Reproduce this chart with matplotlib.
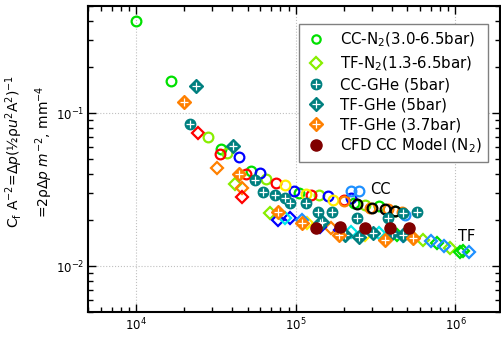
import numpy as np
import matplotlib
matplotlib.use("Agg")
import matplotlib.pyplot as plt
from matplotlib.ticker import LogLocator, NullFormatter

plt.rcParams["mathtext.default"] = "regular"

# ---- data ----
# CC-N2 (3.0-6.5bar), open circles, colour = test run
cc_n2 = {
    "#00e000": ([1.0e4, 1.66e4, 3.41e4, 5.2e4, 1.05e5, 2.3e5, 3.3e5, 4.2e5],
                [0.40, 0.162, 0.058, 0.042, 0.030, 0.026, 0.0245, 0.023]),
    "#88ee00": ([2.83e4, 3.72e4, 6.5e4, 1.4e5, 2.7e5],
                [0.0697, 0.0548, 0.037, 0.029, 0.025]),
    "#ff0000": ([3.37e4, 4.9e4, 7.5e4, 1.25e5, 2.0e5],
                [0.054, 0.040, 0.035, 0.029, 0.027]),
    "#0000ff": ([4.43e4, 6.0e4, 9.8e4, 1.6e5, 2.2e5],
                [0.0515, 0.0407, 0.031, 0.0285, 0.028]),
    "#ffee00": ([8.5e4, 1.15e5, 1.7e5],
                [0.034, 0.0295, 0.027]),
    "#ff8000": ([2.0e5, 2.9e5, 3.8e5, 4.6e5],
                [0.0265, 0.024, 0.0235, 0.0225]),
    "#000000": ([2.4e5, 3.0e5, 3.6e5, 4.2e5],
                [0.0255, 0.024, 0.0235, 0.023]),
    "#1e90ff": ([2.2e5, 2.5e5, 4.8e5],
                [0.031, 0.031, 0.0215]),
}

# TF-N2 (1.3-6.5bar), open diamonds
tf_n2 = {
    "#88ee00": ([4.18e4, 6.92e4, 6.3e5, 9.3e5],
                [0.0343, 0.0222, 0.0148, 0.0131]),
    "#ff8000": ([3.22e4, 4.62e4, 1.65e5],
                [0.0437, 0.0324, 0.0177]),
    "#ff0000": ([2.45e4, 4.62e4],
                [0.074, 0.0282]),
    "#0000ff": ([7.77e4, 9.24e4, 1.42e5, 1.9e5],
                [0.020, 0.0206, 0.0180, 0.0172]),
    "#00e8e8": ([8.6e4, 2.2e5, 3.3e5],
                [0.0206, 0.0167, 0.0165]),
    "#ffee00": ([1.18e5, 2.73e5],
                [0.0191, 0.0159]),
    "#00e000": ([4.33e5, 5.45e5, 7.7e5, 1.07e6, 1.12e6],
                [0.0159, 0.0152, 0.0141, 0.0124, 0.0126]),
    "#1e90ff": ([1.1e5, 4.7e5, 7.0e5, 8.5e5, 1.21e6],
                [0.0200, 0.0156, 0.0145, 0.0136, 0.0124]),
}

cc_ghe_x = [2.18e4, 5.57e4, 6.25e4, 7.43e4, 8.6e4, 9.24e4, 1.15e5, 1.38e5,
            1.69e5, 2.43e5, 3.75e5, 4.72e5, 5.78e5]
cc_ghe_y = [0.0847, 0.0365, 0.0305, 0.0291, 0.0278, 0.0258, 0.0258, 0.0225,
            0.0225, 0.0206, 0.0206, 0.0222, 0.0225]

tf_ghe5_x = [2.38e4, 4.06e4, 1.42e5, 1.46e5, 2.04e5, 2.47e5, 3.06e5, 4.03e5, 4.66e5]
tf_ghe5_y = [0.150, 0.0608, 0.0191, 0.0194, 0.0159, 0.0155, 0.0164, 0.0164, 0.0159]

tf_ghe37_x = [2.0e4, 4.43e4, 7.77e4, 1.10e5, 1.85e5, 3.64e5, 5.45e5]
tf_ghe37_y = [0.118, 0.040, 0.0225, 0.0191, 0.0159, 0.0148, 0.0152]

cfd_x = [1.33e5, 1.9e5, 2.73e5, 3.86e5, 5.15e5]
cfd_y = [0.0178, 0.0180, 0.0178, 0.0178, 0.0178]

teal = "#008080"
orange = "#ff8000"

fig = plt.figure(figsize=(5.01, 3.37), dpi=100)
ax = fig.add_axes([0.176, 0.074, 0.822, 0.908])
ax.set_xscale("log")
ax.set_yscale("log")

ms = 7
lw = 1.6

for c, (xs, ys) in tf_n2.items():
    ax.plot(xs, ys, ls="none", marker="D", ms=ms - 0.5, mfc="none", mec=c, mew=lw)
for c, (xs, ys) in cc_n2.items():
    ax.plot(xs, ys, ls="none", marker="o", ms=ms, mfc="none", mec=c, mew=lw)

def crossed(x, y, m, color, size):
    a = ax.plot(x, y, ls="none", marker=m, ms=size, mfc=color, mec=color, mew=1)[0]
    b = ax.plot(x, y, ls="none", marker="+", ms=size * 0.75, mec="white", mew=0.9)[0]
    return (a, b)

h_ccghe = crossed(cc_ghe_x, cc_ghe_y, "o", teal, 7.5)
h_tf5 = crossed(tf_ghe5_x, tf_ghe5_y, "D", teal, 7)
h_tf37 = crossed(tf_ghe37_x, tf_ghe37_y, "D", orange, 7)
h_cfd = ax.plot(cfd_x, cfd_y, ls="none", marker="o", ms=8, mfc="#800000", mec="#800000")[0]

# legend proxies
p_cc = ax.plot([], [], ls="none", marker="o", ms=6, mfc="none", mec="#00e000", mew=lw)[0]
p_tf = ax.plot([], [], ls="none", marker="D", ms=6, mfc="none", mec="#88ee00", mew=lw)[0]

leg = ax.legend([p_cc, p_tf, h_ccghe, h_tf5, h_tf37, h_cfd],
                [r"CC-N$_2$(3.0-6.5bar)", r"TF-N$_2$(1.3-6.5bar)", "CC-GHe (5bar)",
                 "TF-GHe (5bar)", "TF-GHe (3.7bar)", r"CFD CC Model (N$_2$)"],
                loc="upper right", bbox_to_anchor=(0.99, 0.965), fontsize=10.8,
                fancybox=False, framealpha=1, edgecolor="#808080",
                handlelength=1.4, handletextpad=0.9, labelspacing=0.32,
                borderpad=0.45)
leg.get_frame().set_linewidth(1.0)

ax.text(3.4e5, 0.0315, "CC", fontsize=10.5, ha="center", va="center")
ax.text(1.17e6, 0.0157, "TF", fontsize=10.5, ha="center", va="center")

ax.set_xlim(5.0e3, 1.9e6)
ax.set_ylim(0.005, 0.5)

ax.xaxis.set_major_locator(LogLocator(base=10, numticks=10))
ax.xaxis.set_minor_locator(LogLocator(base=10, subs=np.arange(2, 10), numticks=10))
ax.yaxis.set_minor_locator(LogLocator(base=10, subs=np.arange(2, 10), numticks=10))
ax.xaxis.set_minor_formatter(NullFormatter())
ax.yaxis.set_minor_formatter(NullFormatter())

ax.tick_params(which="both", direction="in", top=True, right=True, labelsize=8.5)
ax.tick_params(which="major", length=6, width=1)
ax.tick_params(which="minor", length=3.5, width=1)
ax.tick_params(axis="y", pad=2.5)
ax.grid(True, which="major", ls=":", color="#c0c0c0", lw=0.8)
for s in ax.spines.values():
    s.set_linewidth(1.5)

# y label as free text so both lines sit where the original has them
fig.text(0.058, 0.55,
         "C$_f$ A$^{-2}$=Δ$\\mathit{p}$(½ρ$\\mathit{u}^2$A$^2$)$^{-1}$\n"
         "=2ρΔ$\\mathit{p}$ $\\mathit{m}^{-2}$, mm$^{-4}$",
         rotation=90, ha="center", va="center", fontsize=10, linespacing=1.5,
         multialignment="center")

fig.savefig("out.png", dpi=100)
